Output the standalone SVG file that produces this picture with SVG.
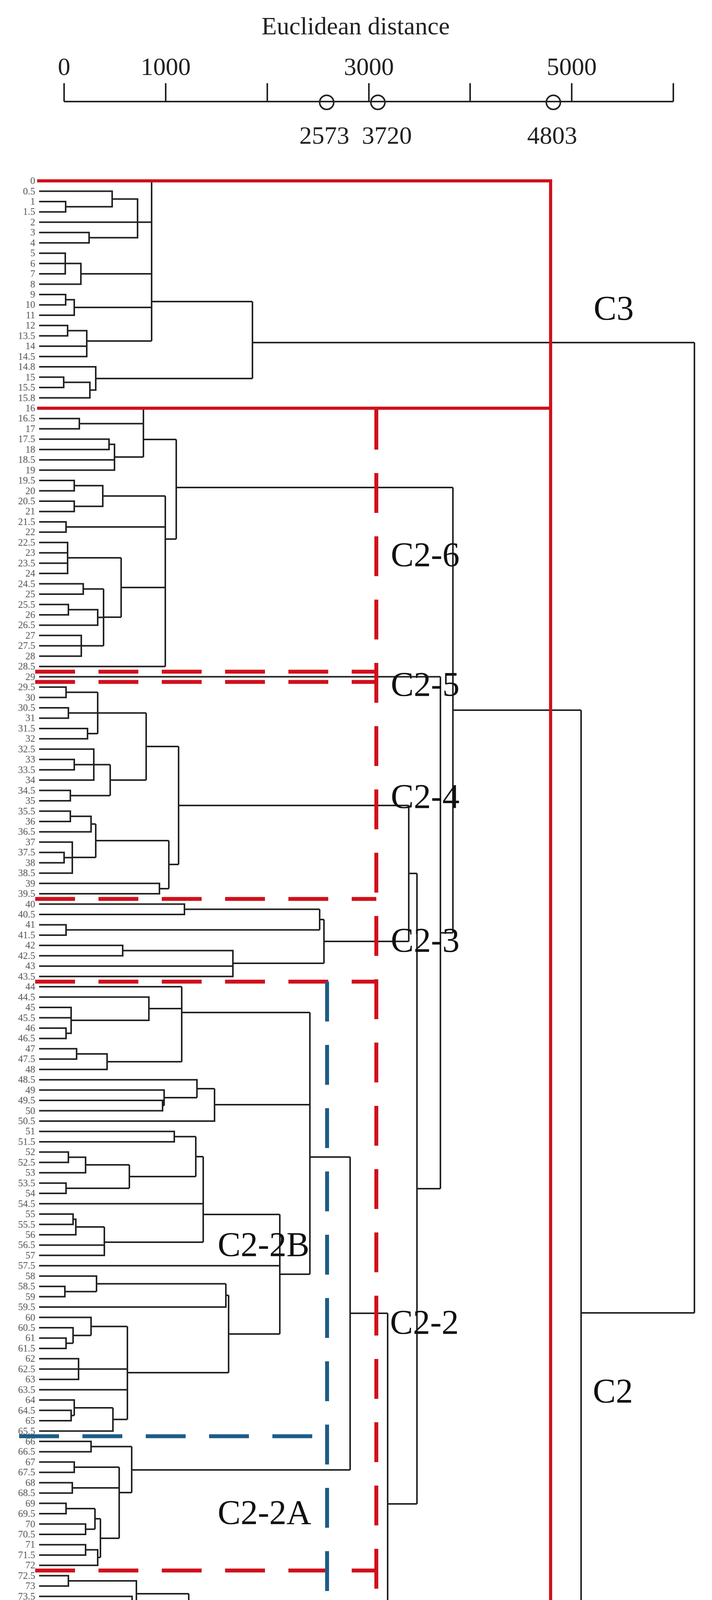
<svg xmlns="http://www.w3.org/2000/svg" width="1822" height="5568" viewBox="0 0 1822 5568">
<style>
.t{fill:none;stroke:#222;stroke-width:4}
.rs{fill:none;stroke:#d0101c;stroke-width:8}
.rd{fill:none;stroke:#d0101c;stroke-width:10;stroke-dasharray:102 60}
.bd{fill:none;stroke:#1c5d86;stroke-width:10;stroke-dasharray:102 60}
.lf{font-family:"Liberation Serif",serif;font-size:25px;fill:#5a5a5a;text-anchor:end}
.cl{font-family:"Liberation Serif",serif;font-size:88px;fill:#111}
.ax{font-family:"Liberation Serif",serif;font-size:64px;fill:#222;text-anchor:middle}
</style>
<rect width="1822" height="5568" fill="#fff"/>
<g id="axis">
<text x="910" y="88" class="ax" font-size="92">Euclidean distance</text>
<path class="t" d="M164,260H1723 M164,213V260 M424,213V260 M684,213V260 M944,213V260 M1203,213V260 M1463,213V260 M1723,213V260"/>
<circle cx="836" cy="262" r="18" class="t"/><circle cx="967" cy="262" r="18" class="t"/><circle cx="1416" cy="262" r="18" class="t"/>
<text x="164" y="192" class="ax">0</text><text x="424" y="192" class="ax">1000</text><text x="944" y="192" class="ax">3000</text><text x="1463" y="192" class="ax">5000</text>
<text x="830" y="368" class="ax" font-size="66">2573</text><text x="990" y="368" class="ax" font-size="66">3720</text><text x="1413" y="368" class="ax" font-size="66">4803</text>
</g>
<g id="connectors">
<g id="C3-tree"><path class="t" d="M100,515.9H168V542.4H100 M100,489.5H287V529.2H168 M100,595.3H228V621.7H100 M287,509.4H352V608.5H228 M100,568.8H352 M352,568.8H388 M100,648.2H167V701.1H100 M100,674.6H167 M167,674.6H207V727.5H100 M207,701H388 M100,754H168V780.4H100 M168,767.2H190V806.9H100 M190,787H388 M100,833.3H173V859.8H100 M173,846.5H222V912.7H100 M100,886.2H222 M222,873H388 M388,463V873 M388,772H646 M100,965.6H163V992H100 M163,978.8H230V1018.5H100 M100,939.1H245V998.6H230 M245,969H646 M646,772V969 M646,877H1777"/></g>
<g id="C2-6-tree"><path class="t" d="M100,1071.4H203V1097.8H100 M203,1084.6H367 M100,1124.3H279V1150.7H100 M279,1137.5H293V1203.6H100 M100,1177.2H293 M293,1170H367 M367,1044.9V1170 M367,1125H451 M100,1230.1H190V1256.5H100 M100,1283H190V1309.4H100 M190,1243.3H263V1296.2H190 M263,1269.7H423 M100,1335.9H169V1362.3H100 M169,1349.1H423 M100,1388.8H173V1468.1H100 M100,1415.2H173 M100,1441.7H173 M173,1428H310 M100,1494.6H213V1521H100 M213,1507.8H265 M100,1547.5H175V1573.9H100 M175,1560.7H250V1600.4H100 M250,1580.5H265 M100,1626.8H208V1679.7H100 M100,1653.3H208 M208,1653.3H265 M265,1507.8V1653.3 M265,1580H310 M310,1428V1580 M310,1504H423 M100,1706.2H423 M423,1269.7V1706.2 M423,1380H451 M451,1125V1380 M451,1248H1159"/></g>
<g id="C2-5-tree"><path class="t" d="M100,1732.6H1127"/></g>
<g id="C2-4-tree"><path class="t" d="M100,1759.1H169V1785.5H100 M100,1812H175V1838.4H100 M100,1864.9H224V1891.3H100 M169,1772.3H250 M175,1825.2H250 M224,1878.1H250 M250,1772.3V1878.1 M250,1825.2H374 M100,1944.2H190V1970.7H100 M100,1917.8H240V1997.1H100 M190,1957.5H240 M100,2023.6H180V2050H100 M240,1957.5H282 M180,2036.8H282 M282,1957.5V2036.8 M282,1997H374 M374,1825.2V1997 M374,1911H457 M100,2076.5H180V2102.9H100 M180,2089.7H233V2129.4H100 M100,2182.3H164V2208.7H100 M100,2155.8H185V2235.2H100 M164,2195.5H185 M233,2109.5H245 M185,2195H245 M245,2109.5V2195 M245,2152H432 M100,2261.6H408V2288.1H100 M408,2274.9H432 M432,2152V2274.9 M432,2213H457 M457,1911V2213 M457,2062H1046"/></g>
<g id="C2-3-tree"><path class="t" d="M100,2314.5H472V2341H100 M100,2367.4H169V2393.9H100 M472,2327.7H818 M169,2380.6H818 M818,2327.7V2380.6 M818,2354H829 M100,2420.3H314V2446.8H100 M314,2433.5H596V2499.7H100 M100,2473.2H596 M596,2466H829 M829,2354V2466 M829,2410H1046 M1046,2062V2410 M1046,2236H1067"/></g>
<g id="C2-2B-tree"><path class="t" d="M100,2526.1H465 M100,2631.9H169V2658.4H100 M100,2579H182V2645.2H169 M100,2605.5H182 M182,2612H381V2552.6H100 M381,2582H465 M100,2684.8H196V2711.3H100 M196,2698H274V2737.7H100 M274,2718H465 M465,2526.1V2718 M465,2592H793 M100,2817.1H416V2843.5H100 M416,2830.3H420 M100,2790.6H420V2830.3 M420,2810H504 M100,2764.2H504V2810 M504,2787H549 M100,2870H549V2787 M549,2828H793 M100,2896.4H446V2922.9H100 M446,2909.7H501 M100,2949.3H175V2975.8H100 M175,2962.5H219V3002.2H100 M219,2982H331 M100,3028.7H169V3055.1H100 M169,3041.9H331 M331,2982V3041.9 M331,3012H501 M501,2909.7V3012 M501,2961H520 M100,3081.6H520 M100,3108H187V3134.5H100 M187,3121.3H194V3160.9H100 M194,3141H267 M100,3187.4H267 M100,3213.8H267V3141 M267,3180H520 M520,2961V3180 M520,3109H716 M100,3240.3H716 M100,3293.2H166V3319.6H100 M166,3306.4H247 M100,3266.7H247V3306.4 M247,3286.5H578 M100,3346.1H578V3286.5 M578,3316H585 M100,3425.4H169V3451.9H100 M169,3438.7H187 M100,3399H187V3438.7 M187,3418.8H233 M100,3372.5H233V3418.8 M233,3395.7H326 M100,3478.3H201V3531.2H100 M100,3504.8H201 M201,3504.8H326 M100,3557.7H326 M100,3610.6H182V3637H100 M182,3623.8H190 M100,3584.1H190V3623.8 M190,3604H289 M100,3663.5H289V3604 M289,3633.7H326 M326,3395.7V3633.7 M326,3514H585 M585,3316V3514 M585,3415H716 M716,3109V3415 M716,3262H793 M793,2592V3262 M793,2962H896"/></g>
<g id="C2-2A-tree"><path class="t" d="M100,3689.9H233V3716.4H100 M233,3703.2H337 M100,3742.8H190V3769.3H100 M190,3756H305 M100,3795.7H185V3822.2H100 M185,3809H305 M100,3848.6H169V3875.1H100 M169,3862H243 M100,3901.5H219V3928H100 M219,3914.8H243 M243,3862V3914.8 M243,3888H257 M100,3954.4H219V3980.9H100 M219,3967.6H250V4007.3H100 M250,3987H257 M257,3888V3987 M257,3938H305 M305,3756V3938 M305,3821H337 M337,3703.2V3821 M337,3763H896 M896,2962V3763 M896,3362H992"/></g>
<g id="C2-1-tree"><path class="t" d="M100,4033.8H175V4060.2H100 M100,4113.1H296V4166H100 M100,4139.6H338 M100,4086.7H338V4139.6 M338,4113H349 M175,4047H349V4113 M349,4080H483 M100,4192.5H360V4218.9H100 M360,4205.7H483 M100,4245.4H483V4080 M483,4205H494 M100,4271.8H494V4205 M494,4238H850 M100,4298.3H282 M100,4324.7H282 M100,4351.2H169V4377.6H100 M100,4404.1H212V4430.5H100 M169,4364.4H219 M212,4417.3H219 M219,4364.4V4417.3 M219,4391H282 M282,4298.3V4391 M282,4331H663 M100,4457H212V4509.9H100 M100,4483.4H663 M100,4536.3H215V4562.8H100 M215,4549.5H564 M100,4589.2H564 M100,4615.7H564V4549.5 M564,4582H663 M663,4331V4582 M663,4435H850 M850,4238V4435 M850,4337H992 M992,3362V4337 M992,3850H1067 M1067,2236V3850 M1067,3043H1127 M1127,1732.6V3043 M1127,2388H1159 M1159,1248V2388 M1159,1818H1487"/></g>
<g id="C1-tree"><path class="t" d="M100,4642.1H185V4668.6H100 M100,4721.5H175V4747.9H100 M175,4734.7H203 M100,4695H203V4734.7 M203,4714.9H305 M185,4655.4H305V4714.9 M305,4685H608 M100,4774.4H608V4685 M608,4729.7H1354 M100,4800.8H240V4827.3H100 M240,4814H321 M100,4853.7H321V4814 M321,4834H683 M100,4880.2H349V4933.1H100 M100,4906.6H349 M349,4906.6H537 M100,4959.5H402V4986H100 M402,4972.8H537 M537,4906.6V4972.8 M537,4939.7H683 M683,4834V4939.7 M683,4887H695 M100,5012.4H695V4887 M695,4950H1225 M100,5038.9H1225 M1225,4950V5038.9 M1225,4994.5H1256 M100,5065.3H229V5091.8H100 M229,5078.5H733 M100,5118.2H733V5078.5 M733,5098.4H945 M100,5144.7H527V5171.1H100 M527,5157.9H776 M100,5197.6H765 M100,5224H635 M100,5276.9H182V5303.4H100 M182,5290.2H196 M100,5250.5H196V5290.2 M196,5270.4H622 M100,5329.8H203V5356.3H100 M100,5382.7H169V5409.2H100 M203,5343H215 M169,5396H215 M215,5343V5396 M215,5369.5H271 M100,5435.6H271 M100,5462.1H271V5369.5 M271,5415.8H622 M622,5270.4V5415.8 M622,5343H635 M635,5224V5343 M635,5283.5H748 M100,5488.5H175V5515H100 M175,5501.8H748 M748,5283.5V5501.8 M748,5392.6H765 M765,5197.6V5392.6 M765,5295H776 M776,5157.9V5295 M776,5226.5H945 M945,5098.4V5226.5 M945,5162.5H1256 M1256,4994.5V5162.5 M1256,5078.5H1354 M1354,4729.7V5078.5 M1354,4904H1487 M1487,1818V4904 M1487,3361H1777 M1777,877V3361"/></g>
</g>
<g id="frames">
<path class="rs" d="M95,463H1409V5515H95 M95,1044.9H1409 M95,4642.1H1409"/>
<path class="rd" d="M963,1049V5515"/>
<path class="rd" d="M90,1719.4H963 M90,1745.8H963 M90,2301.3H963 M90,2512.9H963 M90,4020.5H963 M90,4787.6H963 M90,5025.6H963 M90,5052.1H963"/>
<path class="bd" d="M837,2513V4642"/>
<path class="bd" d="M49,3676.7H837 M49,4285H837"/>
</g>
<g id="cluster-labels">
<text class="cl" x="1519" y="818">C3</text>
<text class="cl" x="1000" y="1449">C2-6</text>
<text class="cl" x="1000" y="1781">C2-5</text>
<text class="cl" x="1000" y="2068">C2-4</text>
<text class="cl" x="1000" y="2436">C2-3</text>
<text class="cl" x="998" y="3414">C2-2</text>
<text class="cl" x="1000" y="4367">C2-1</text>
<text class="cl" x="557" y="3215">C2-2B</text>
<text class="cl" x="557" y="3901">C2-2A</text>
<text class="cl" x="557" y="4194">C2-1B</text>
<text class="cl" x="557" y="4492">C2-1A</text>
<text class="cl" x="1517" y="3590">C2</text>
<text class="cl" x="995" y="4764">C1-4</text>
<text class="cl" x="995" y="4956">C1-3</text>
<text class="cl" x="995" y="5081">C1-2</text>
<text class="cl" x="995" y="5348">C1-1</text>
<text class="cl" x="1525" y="5110">C1</text>
</g>
<g id="leaf-labels" class="lf">
<text x="90" y="471.0">0</text><text x="90" y="497.5">0.5</text><text x="90" y="523.9">1</text><text x="90" y="550.4">1.5</text><text x="90" y="576.8">2</text><text x="90" y="603.3">3</text><text x="90" y="629.7">4</text><text x="90" y="656.2">5</text><text x="90" y="682.6">6</text><text x="90" y="709.1">7</text><text x="90" y="735.5">8</text><text x="90" y="762.0">9</text><text x="90" y="788.4">10</text><text x="90" y="814.9">11</text><text x="90" y="841.3">12</text><text x="90" y="867.8">13.5</text><text x="90" y="894.2">14</text><text x="90" y="920.7">14.5</text><text x="90" y="947.1">14.8</text><text x="90" y="973.6">15</text><text x="90" y="1000.0">15.5</text><text x="90" y="1026.5">15.8</text>
<text x="90" y="1052.9">16</text><text x="90" y="1079.4">16.5</text><text x="90" y="1105.8">17</text><text x="90" y="1132.3">17.5</text><text x="90" y="1158.7">18</text><text x="90" y="1185.2">18.5</text><text x="90" y="1211.6">19</text><text x="90" y="1238.1">19.5</text><text x="90" y="1264.5">20</text><text x="90" y="1291.0">20.5</text><text x="90" y="1317.4">21</text><text x="90" y="1343.9">21.5</text><text x="90" y="1370.3">22</text><text x="90" y="1396.8">22.5</text><text x="90" y="1423.2">23</text><text x="90" y="1449.7">23.5</text><text x="90" y="1476.1">24</text><text x="90" y="1502.6">24.5</text><text x="90" y="1529.0">25</text><text x="90" y="1555.5">25.5</text><text x="90" y="1581.9">26</text><text x="90" y="1608.4">26.5</text><text x="90" y="1634.8">27</text><text x="90" y="1661.3">27.5</text><text x="90" y="1687.7">28</text><text x="90" y="1714.2">28.5</text>
<text x="90" y="1740.6">29</text><text x="90" y="1767.1">29.5</text><text x="90" y="1793.5">30</text><text x="90" y="1820.0">30.5</text><text x="90" y="1846.4">31</text><text x="90" y="1872.9">31.5</text><text x="90" y="1899.3">32</text><text x="90" y="1925.8">32.5</text><text x="90" y="1952.2">33</text><text x="90" y="1978.7">33.5</text><text x="90" y="2005.1">34</text><text x="90" y="2031.6">34.5</text><text x="90" y="2058.0">35</text><text x="90" y="2084.5">35.5</text><text x="90" y="2110.9">36</text><text x="90" y="2137.4">36.5</text><text x="90" y="2163.8">37</text><text x="90" y="2190.3">37.5</text><text x="90" y="2216.7">38</text><text x="90" y="2243.2">38.5</text><text x="90" y="2269.6">39</text><text x="90" y="2296.1">39.5</text>
<text x="90" y="2322.5">40</text><text x="90" y="2349.0">40.5</text><text x="90" y="2375.4">41</text><text x="90" y="2401.9">41.5</text><text x="90" y="2428.3">42</text><text x="90" y="2454.8">42.5</text><text x="90" y="2481.2">43</text><text x="90" y="2507.7">43.5</text>
<text x="90" y="2534.1">44</text><text x="90" y="2560.6">44.5</text><text x="90" y="2587.0">45</text><text x="90" y="2613.5">45.5</text><text x="90" y="2639.9">46</text><text x="90" y="2666.4">46.5</text><text x="90" y="2692.8">47</text><text x="90" y="2719.3">47.5</text><text x="90" y="2745.7">48</text><text x="90" y="2772.2">48.5</text><text x="90" y="2798.6">49</text><text x="90" y="2825.1">49.5</text><text x="90" y="2851.5">50</text><text x="90" y="2878.0">50.5</text><text x="90" y="2904.4">51</text><text x="90" y="2930.9">51.5</text><text x="90" y="2957.3">52</text><text x="90" y="2983.8">52.5</text><text x="90" y="3010.2">53</text><text x="90" y="3036.7">53.5</text><text x="90" y="3063.1">54</text><text x="90" y="3089.6">54.5</text><text x="90" y="3116.0">55</text><text x="90" y="3142.5">55.5</text><text x="90" y="3168.9">56</text><text x="90" y="3195.4">56.5</text><text x="90" y="3221.8">57</text><text x="90" y="3248.3">57.5</text><text x="90" y="3274.7">58</text><text x="90" y="3301.2">58.5</text><text x="90" y="3327.6">59</text><text x="90" y="3354.1">59.5</text><text x="90" y="3380.5">60</text><text x="90" y="3407.0">60.5</text><text x="90" y="3433.4">61</text><text x="90" y="3459.9">61.5</text><text x="90" y="3486.3">62</text><text x="90" y="3512.8">62.5</text><text x="90" y="3539.2">63</text><text x="90" y="3565.7">63.5</text><text x="90" y="3592.1">64</text><text x="90" y="3618.6">64.5</text><text x="90" y="3645.0">65</text><text x="90" y="3671.5">65.5</text>
<text x="90" y="3697.9">66</text><text x="90" y="3724.4">66.5</text><text x="90" y="3750.8">67</text><text x="90" y="3777.3">67.5</text><text x="90" y="3803.7">68</text><text x="90" y="3830.2">68.5</text><text x="90" y="3856.6">69</text><text x="90" y="3883.1">69.5</text><text x="90" y="3909.5">70</text><text x="90" y="3936.0">70.5</text><text x="90" y="3962.4">71</text><text x="90" y="3988.9">71.5</text><text x="90" y="4015.3">72</text>
<text x="90" y="4041.8">72.5</text><text x="90" y="4068.2">73</text><text x="90" y="4094.7">73.5</text><text x="90" y="4121.1">74</text><text x="90" y="4147.6">74.5</text><text x="90" y="4174.0">75</text><text x="90" y="4200.5">75.5</text><text x="90" y="4226.9">76</text><text x="90" y="4253.4">76.5</text><text x="90" y="4279.8">77</text><text x="90" y="4306.3">77.5</text><text x="90" y="4332.7">78</text><text x="90" y="4359.2">78.5</text><text x="90" y="4385.6">79</text><text x="90" y="4412.1">79.5</text><text x="90" y="4438.5">80</text><text x="90" y="4465.0">80.5</text><text x="90" y="4491.4">81</text><text x="90" y="4517.9">81.5</text><text x="90" y="4544.3">82</text><text x="90" y="4570.8">82.5</text><text x="90" y="4597.2">83.5</text><text x="90" y="4623.7">84</text>
<text x="90" y="4650.1">84.5</text><text x="90" y="4676.6">85</text><text x="90" y="4703.0">85.5</text><text x="90" y="4729.5">86</text><text x="90" y="4755.9">86.5</text><text x="90" y="4782.4">87</text><text x="90" y="4808.8">87.5</text><text x="90" y="4835.3">88</text><text x="90" y="4861.7">88.5</text><text x="90" y="4888.2">89</text><text x="90" y="4914.6">89.5</text><text x="90" y="4941.1">90</text><text x="90" y="4967.5">90.5</text><text x="90" y="4994.0">91</text><text x="90" y="5020.4">91.5</text><text x="90" y="5046.9">92</text><text x="90" y="5073.3">92.5</text><text x="90" y="5099.8">93</text><text x="90" y="5126.2">93.5</text><text x="90" y="5152.7">94</text><text x="90" y="5179.1">94.5</text><text x="90" y="5205.6">95</text><text x="90" y="5232.0">95.5</text><text x="90" y="5258.5">96</text><text x="90" y="5284.9">96.5</text><text x="90" y="5311.4">97</text><text x="90" y="5337.8">97.5</text><text x="90" y="5364.3">98</text><text x="90" y="5390.7">98.5</text><text x="90" y="5417.2">99</text><text x="90" y="5443.6">99.5</text><text x="90" y="5470.1">100</text><text x="90" y="5496.5">101.5</text><text x="90" y="5523.0">101</text>
</g>
</svg>
